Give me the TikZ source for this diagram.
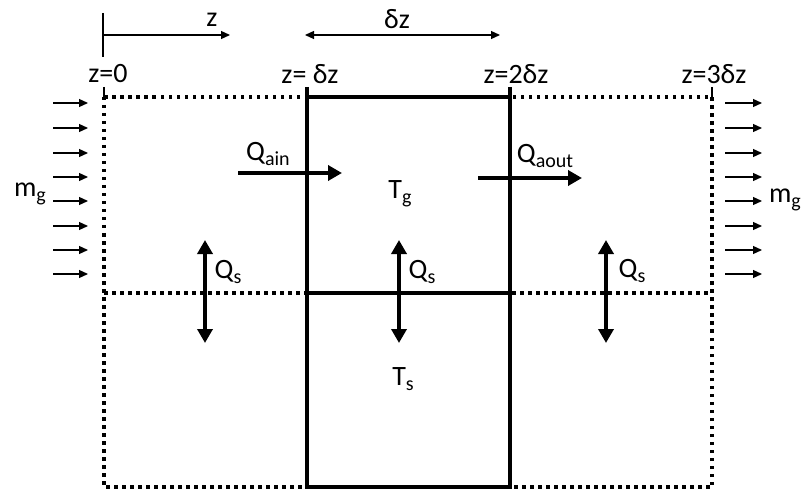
\documentclass[tikz,border=0pt]{standalone}
\usepackage{fontspec}
\setmainfont{Carlito}
\usetikzlibrary{arrows.meta,positioning}
\tikzset{
  flowarr/.style={-{Triangle[length=9pt,width=8pt]},line width=1.2pt},
  heatarr/.style={-{Triangle[length=14pt,width=15pt]},line width=4pt},
  exarr/.style={{Triangle[length=14pt,width=15pt]}-{Triangle[length=14pt,width=15pt]},line width=4pt},
  dotline/.style={line width=3.5pt,dash pattern=on 3.5pt off 4.5pt},
  wall/.style={line width=3.5pt},
  lbl/.style={font=\fontsize{28}{30}\selectfont,inner sep=0pt}
}
\newcommand{\lowtxt}[1]{\raisebox{-0.35ex}{\fontsize{20}{20}\selectfont #1}}

\begin{document}
\begin{tikzpicture}[x=1pt,y=-1pt]
  \useasboundingbox (0,0) rectangle (804,492);
  % axis z
  \coordinate (ztop) at (103,13);
  \coordinate (zbot) at (103,57);
  \draw[line width=1.2pt] (ztop) -- (zbot);
  \coordinate (zstart) at (103,35);
  \coordinate (zend) at (230,35);
  \draw[flowarr] (zstart) -- (zend);
  \node[lbl] (zlab) at (212,20) {z};
  % cell width
  \coordinate (dzl) at (305,35);
  \coordinate (dzr) at (500,35);
  \draw[{Triangle[length=9pt,width=8pt]}-{Triangle[length=9pt,width=8pt]},line width=1.2pt] (dzl) -- (dzr);
  \node[lbl] (dzlab) at (397,19) {δz};
  % positions
  \node[lbl] (pos0) at (108,74) {z=0};
  \node[lbl] (pos1) at (310,74) {z= δz};
  \node[lbl] (pos2) at (516,74) {z=2δz};
  \node[lbl] (pos3) at (714,74) {z=3δz};
  % dotted outer cells
  \draw[dotline] (104,97) rectangle (712,487);
  \draw[dotline] (104,293) -- (712,293);
  \draw[line width=2pt] (104,87) -- (104,97);
  \draw[line width=2pt] (712,87) -- (712,97);
  % control volume (solid)
  \draw[wall] (307,87) -- (307,487) -- (510,487) -- (510,87);
  \draw[wall] (307,97) -- (510,97);
  \draw[wall] (307,293) -- (510,293);
  % gas flow in and out
  \foreach \i/\y in {1/103,2/128,3/153,4/177,5/201,6/226,7/250,8/274}{
    \coordinate (inA\i) at (53,\y);
    \coordinate (inB\i) at (88,\y);
    \draw[flowarr] (inA\i) -- (inB\i);
    \coordinate (outA\i) at (725,\y);
    \coordinate (outB\i) at (762,\y);
    \draw[flowarr] (outA\i) -- (outB\i);
  }
  \node[lbl] (mgin) at (30,194) {m\lowtxt{g}};
  \node[lbl] (mgout) at (785,200) {m\lowtxt{g}};
  % axial heat flow
  \coordinate (qinA) at (238,173);
  \coordinate (qinB) at (342,173);
  \draw[heatarr] (qinA) -- (qinB);
  \node[lbl] (qin) at (268,154) {Q\lowtxt{ain}};
  \coordinate (qoutA) at (478,178);
  \coordinate (qoutB) at (582,178);
  \draw[heatarr] (qoutA) -- (qoutB);
  \node[lbl] (qout) at (545,156) {Q\lowtxt{aout}};
  % temperatures
  \node[lbl] (tg) at (400,194) {T\lowtxt{g}};
  \node[lbl] (ts) at (403,379) {T\lowtxt{s}};
  % gas-solid exchange
  \foreach \j/\x in {1/205,2/399,3/606}{
    \coordinate (qsT\j) at (\x,240);
    \coordinate (qsB\j) at (\x,343);
    \draw[exarr] (qsT\j) -- (qsB\j);
  }
  \node[lbl] (qs1) at (228,272) {Q\lowtxt{s}};
  \node[lbl] (qs2) at (422,272) {Q\lowtxt{s}};
  \node[lbl] (qs3) at (632,271) {Q\lowtxt{s}};
\end{tikzpicture}
\end{document}
